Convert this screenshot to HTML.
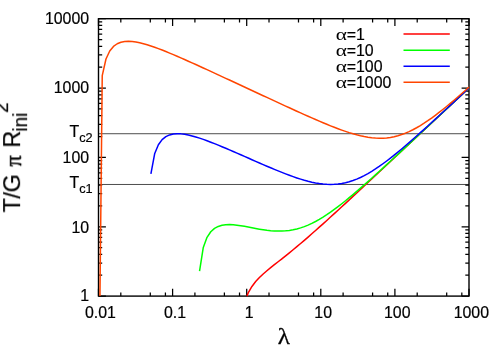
<!DOCTYPE html>
<html><head><meta charset="utf-8"><title>plot</title>
<style>html,body{margin:0;padding:0;background:#fff;overflow:hidden}svg{display:block}text{font-kerning:none}</style>
</head><body>
<svg width="498" height="348" viewBox="0 0 498 348">
<rect width="498" height="348" fill="#fff"/>
<rect x="98.5" y="18.7" width="370.5" height="277.40" fill="none" stroke="#000" stroke-width="1.4"/>
<path d="M98.50,296.1v-7.4M98.50,18.7v7.4M120.81,296.1v-3.7M120.81,18.7v3.7M150.29,296.1v-3.7M150.29,18.7v3.7M165.42,296.1v-3.7M165.42,18.7v3.7M172.60,296.1v-7.4M172.60,18.7v7.4M194.91,296.1v-3.7M194.91,18.7v3.7M224.39,296.1v-3.7M224.39,18.7v3.7M239.52,296.1v-3.7M239.52,18.7v3.7M246.70,296.1v-7.4M246.70,18.7v7.4M269.01,296.1v-3.7M269.01,18.7v3.7M298.49,296.1v-3.7M298.49,18.7v3.7M313.62,296.1v-3.7M313.62,18.7v3.7M320.80,296.1v-7.4M320.80,18.7v7.4M343.11,296.1v-3.7M343.11,18.7v3.7M372.59,296.1v-3.7M372.59,18.7v3.7M387.72,296.1v-3.7M387.72,18.7v3.7M394.90,296.1v-7.4M394.90,18.7v7.4M417.21,296.1v-3.7M417.21,18.7v3.7M446.69,296.1v-3.7M446.69,18.7v3.7M461.82,296.1v-3.7M461.82,18.7v3.7M469.00,296.1v-7.4M469.00,18.7v7.4M98.5,296.10h7.4M469.0,296.10h-7.4M98.5,275.22h3.7M469.0,275.22h-3.7M98.5,263.01h3.7M469.0,263.01h-3.7M98.5,254.35h3.7M469.0,254.35h-3.7M98.5,247.63h3.7M469.0,247.63h-3.7M98.5,242.14h3.7M469.0,242.14h-3.7M98.5,237.49h3.7M469.0,237.49h-3.7M98.5,233.47h3.7M469.0,233.47h-3.7M98.5,229.92h3.7M469.0,229.92h-3.7M98.5,226.75h7.4M469.0,226.75h-7.4M98.5,205.87h3.7M469.0,205.87h-3.7M98.5,193.66h3.7M469.0,193.66h-3.7M98.5,185.00h3.7M469.0,185.00h-3.7M98.5,178.28h3.7M469.0,178.28h-3.7M98.5,172.79h3.7M469.0,172.79h-3.7M98.5,168.14h3.7M469.0,168.14h-3.7M98.5,164.12h3.7M469.0,164.12h-3.7M98.5,160.57h3.7M469.0,160.57h-3.7M98.5,157.40h7.4M469.0,157.40h-7.4M98.5,136.52h3.7M469.0,136.52h-3.7M98.5,124.31h3.7M469.0,124.31h-3.7M98.5,115.65h3.7M469.0,115.65h-3.7M98.5,108.93h3.7M469.0,108.93h-3.7M98.5,103.44h3.7M469.0,103.44h-3.7M98.5,98.79h3.7M469.0,98.79h-3.7M98.5,94.77h3.7M469.0,94.77h-3.7M98.5,91.22h3.7M469.0,91.22h-3.7M98.5,88.05h7.4M469.0,88.05h-7.4M98.5,67.17h3.7M469.0,67.17h-3.7M98.5,54.96h3.7M469.0,54.96h-3.7M98.5,46.30h3.7M469.0,46.30h-3.7M98.5,39.58h3.7M469.0,39.58h-3.7M98.5,34.09h3.7M469.0,34.09h-3.7M98.5,29.44h3.7M469.0,29.44h-3.7M98.5,25.42h3.7M469.0,25.42h-3.7M98.5,21.87h3.7M469.0,21.87h-3.7M98.5,18.70h7.4M469.0,18.70h-7.4" fill="none" stroke="#000" stroke-width="1.25"/>
<line x1="98.5" x2="469.0" y1="133.73" y2="133.73" stroke="#000" stroke-width="0.7"/>
<line x1="98.5" x2="469.0" y1="184.47" y2="184.47" stroke="#000" stroke-width="0.7"/>
<polyline points="246.89,296.10 248.20,292.86 251.94,286.47 255.68,281.58 259.42,277.54 263.17,274.00 266.91,270.76 270.65,267.69 274.39,264.71 278.14,261.75 281.88,258.80 285.62,255.82 289.36,252.81 293.11,249.75 296.85,246.65 300.59,243.50 304.33,240.31 308.08,237.08 311.82,233.81 315.56,230.51 319.30,227.18 323.05,223.83 326.79,220.45 330.53,217.06 334.27,213.65 338.02,210.22 341.76,206.78 345.50,203.34 349.24,199.88 352.98,196.42 356.73,192.95 360.47,189.47 364.21,186.00 367.95,182.51 371.70,179.03 375.44,175.54 379.18,172.05 382.92,168.56 386.67,165.06 390.41,161.57 394.15,158.07 397.89,154.57 401.64,151.07 405.38,147.57 409.12,144.07 412.86,140.57 416.61,137.07 420.35,133.57 424.09,130.07 427.83,126.57 431.58,123.07 435.32,119.57 439.06,116.07 442.80,112.56 446.55,109.06 450.29,105.56 454.03,102.06 457.77,98.56 461.52,95.05 465.26,91.55 469.00,88.05" fill="none" stroke="#ff0000" stroke-width="1.5" stroke-linejoin="round"/>
<polyline points="199.55,271.03 203.29,247.39 207.03,237.30 210.77,231.73 214.52,228.41 218.26,226.41 222.00,225.28 225.74,224.74 229.48,224.61 233.23,224.78 236.97,225.16 240.71,225.70 244.45,226.34 248.20,227.03 251.94,227.75 255.68,228.46 259.42,229.14 263.17,229.75 266.91,230.28 270.65,230.70 274.39,230.98 278.14,231.12 281.88,231.08 285.62,230.86 289.36,230.44 293.11,229.80 296.85,228.95 300.59,227.88 304.33,226.60 308.08,225.09 311.82,223.38 315.56,221.48 319.30,219.38 323.05,217.12 326.79,214.70 330.53,212.14 334.27,209.45 338.02,206.65 341.76,203.75 345.50,200.77 349.24,197.70 352.98,194.58 356.73,191.39 360.47,188.16 364.21,184.89 367.95,181.58 371.70,178.24 375.44,174.88 379.18,171.49 382.92,168.09 386.67,164.67 390.41,161.23 394.15,157.79 397.89,154.34 401.64,150.88 405.38,147.41 409.12,143.94 412.86,140.46 416.61,136.98 420.35,133.49 424.09,130.00 427.83,126.51 431.58,123.02 435.32,119.53 439.06,116.03 442.80,112.54 446.55,109.04 450.29,105.54 454.03,102.04 457.77,98.54 461.52,95.04 465.26,91.54 469.00,88.04" fill="none" stroke="#00ff00" stroke-width="1.5" stroke-linejoin="round"/>
<polyline points="150.89,173.93 154.64,153.80 158.38,144.70 162.12,139.63 165.86,136.64 169.61,134.92 173.35,134.04 177.09,133.74 180.83,133.87 184.58,134.32 188.32,135.02 192.06,135.92 195.80,136.97 199.55,138.14 203.29,139.41 207.03,140.76 210.77,142.18 214.52,143.65 218.26,145.16 222.00,146.71 225.74,148.29 229.48,149.89 233.23,151.50 236.97,153.13 240.71,154.77 244.45,156.41 248.20,158.06 251.94,159.70 255.68,161.34 259.42,162.98 263.17,164.60 266.91,166.21 270.65,167.80 274.39,169.36 278.14,170.90 281.88,172.40 285.62,173.87 289.36,175.28 293.11,176.64 296.85,177.93 300.59,179.14 304.33,180.26 308.08,181.28 311.82,182.19 315.56,182.97 319.30,183.60 323.05,184.07 326.79,184.36 330.53,184.47 334.27,184.37 338.02,184.05 341.76,183.52 345.50,182.76 349.24,181.77 352.98,180.55 356.73,179.11 360.47,177.46 364.21,175.60 367.95,173.55 371.70,171.33 375.44,168.95 379.18,166.42 382.92,163.76 386.67,160.98 390.41,158.10 394.15,155.13 397.89,152.09 401.64,148.97 405.38,145.80 409.12,142.58 412.86,139.31 416.61,136.01 420.35,132.68 424.09,129.32 427.83,125.94 431.58,122.54 435.32,119.12 439.06,115.69 442.80,112.25 446.55,108.80 450.29,105.34 454.03,101.87 457.77,98.40 461.52,94.92 465.26,91.44 469.00,87.95" fill="none" stroke="#0000ff" stroke-width="1.5" stroke-linejoin="round"/>
<polyline points="99.95,296.10 102.24,75.63 105.98,59.02 109.73,51.00 113.47,46.44 117.21,43.76 120.95,42.23 124.70,41.48 128.44,41.28 132.18,41.49 135.92,42.00 139.67,42.74 143.41,43.68 147.15,44.76 150.89,45.96 154.64,47.25 158.38,48.63 162.12,50.06 165.86,51.55 169.61,53.09 173.35,54.66 177.09,56.26 180.83,57.88 184.58,59.53 188.32,61.19 192.06,62.87 195.80,64.55 199.55,66.25 203.29,67.96 207.03,69.67 210.77,71.39 214.52,73.12 218.26,74.85 222.00,76.58 225.74,78.31 229.48,80.05 233.23,81.79 236.97,83.52 240.71,85.27 244.45,87.01 248.20,88.75 251.94,90.49 255.68,92.23 259.42,93.97 263.17,95.70 266.91,97.44 270.65,99.18 274.39,100.91 278.14,102.64 281.88,104.36 285.62,106.08 289.36,107.80 293.11,109.51 296.85,111.21 300.59,112.90 304.33,114.58 308.08,116.25 311.82,117.90 315.56,119.54 319.30,121.15 323.05,122.74 326.79,124.29 330.53,125.82 334.27,127.30 338.02,128.73 341.76,130.10 345.50,131.41 349.24,132.65 352.98,133.79 356.73,134.84 360.47,135.77 364.21,136.58 367.95,137.24 371.70,137.75 375.44,138.08 379.18,138.22 382.92,138.17 386.67,137.90 390.41,137.41 394.15,136.69 397.89,135.75 401.64,134.58 405.38,133.18 409.12,131.57 412.86,129.75 416.61,127.75 420.35,125.56 424.09,123.20 427.83,120.70 431.58,118.07 435.32,115.31 439.06,112.45 442.80,109.50 446.55,106.47 450.29,103.37 454.03,100.20 457.77,96.99 461.52,93.73 465.26,90.44 469.00,87.11" fill="none" stroke="#ff4500" stroke-width="1.5" stroke-linejoin="round"/>
<line x1="403.5" x2="449.8" y1="34.10" y2="34.10" stroke="#ff0000" stroke-width="1.5"/>
<line x1="403.5" x2="449.8" y1="50.17" y2="50.17" stroke="#00ff00" stroke-width="1.5"/>
<line x1="403.5" x2="449.8" y1="66.24" y2="66.24" stroke="#0000ff" stroke-width="1.5"/>
<line x1="403.5" x2="449.8" y1="82.31" y2="82.31" stroke="#ff4500" stroke-width="1.5"/>
<g font-family="Liberation Sans, sans-serif" font-size="15.9" fill="#000" stroke="#000" stroke-width="0.2" style="will-change:transform">
<text x="100.50" y="317.8" text-anchor="middle">0.01</text>
<text x="174.95" y="317.8" text-anchor="middle">0.1</text>
<text x="249.05" y="317.8" text-anchor="middle">1</text>
<text x="323.15" y="317.8" text-anchor="middle">10</text>
<text x="397.25" y="317.8" text-anchor="middle">100</text>
<text x="471.35" y="317.8" text-anchor="middle">1000</text>
<text x="89.1" y="301.25" text-anchor="end">1</text>
<text x="89.1" y="232.75" text-anchor="end">10</text>
<text x="89.1" y="162.90" text-anchor="end">100</text>
<text x="89.1" y="93.20" text-anchor="end">1000</text>
<text x="89.1" y="24.20" text-anchor="end">10000</text>
<text x="92.6" y="136.83" text-anchor="end">T<tspan font-size="12.72" dy="5.5">c2</tspan></text>
<text x="92.6" y="187.57" text-anchor="end">T<tspan font-size="12.72" dy="5.5">c1</tspan></text>
<text transform="translate(335.8,39.60) scale(1.25,1)" font-family="Liberation Serif, serif" font-size="17.1" stroke="none">α</text>
<text x="346.7" y="39.60">=1</text>
<text transform="translate(335.8,55.67) scale(1.25,1)" font-family="Liberation Serif, serif" font-size="17.1" stroke="none">α</text>
<text x="346.7" y="55.67">=10</text>
<text transform="translate(335.8,71.74) scale(1.25,1)" font-family="Liberation Serif, serif" font-size="17.1" stroke="none">α</text>
<text x="346.7" y="71.74">=100</text>
<text transform="translate(335.8,87.81) scale(1.25,1)" font-family="Liberation Serif, serif" font-size="17.1" stroke="none">α</text>
<text x="346.7" y="87.81">=1000</text>
</g>
<g fill="#000" stroke="#000" stroke-width="0.2" style="will-change:transform">
<text transform="translate(277.7,344.3) scale(1.05,1)" font-family="Liberation Serif, serif" font-size="23.9" stroke="#000" stroke-width="0.3">λ</text>
<g transform="translate(20.3,212.4) rotate(-90) scale(1,1.04)" font-family="Liberation Sans, sans-serif" font-size="23.5">
<text x="0" y="0">T</text>
<text x="13.76" y="0">/</text>
<text x="20.04" y="0">G</text>
<text transform="translate(45.65,0.5)" font-family="Liberation Serif, serif" font-size="22.6" stroke="#000" stroke-width="0.45">π</text>
<text x="64.7" y="0">R</text>
<text x="80.8" y="6.83" font-size="18.80">ini</text>
<text x="99.4" y="-11.25" font-size="18.80">2</text>
</g>
</g>
</svg>
</body></html>
